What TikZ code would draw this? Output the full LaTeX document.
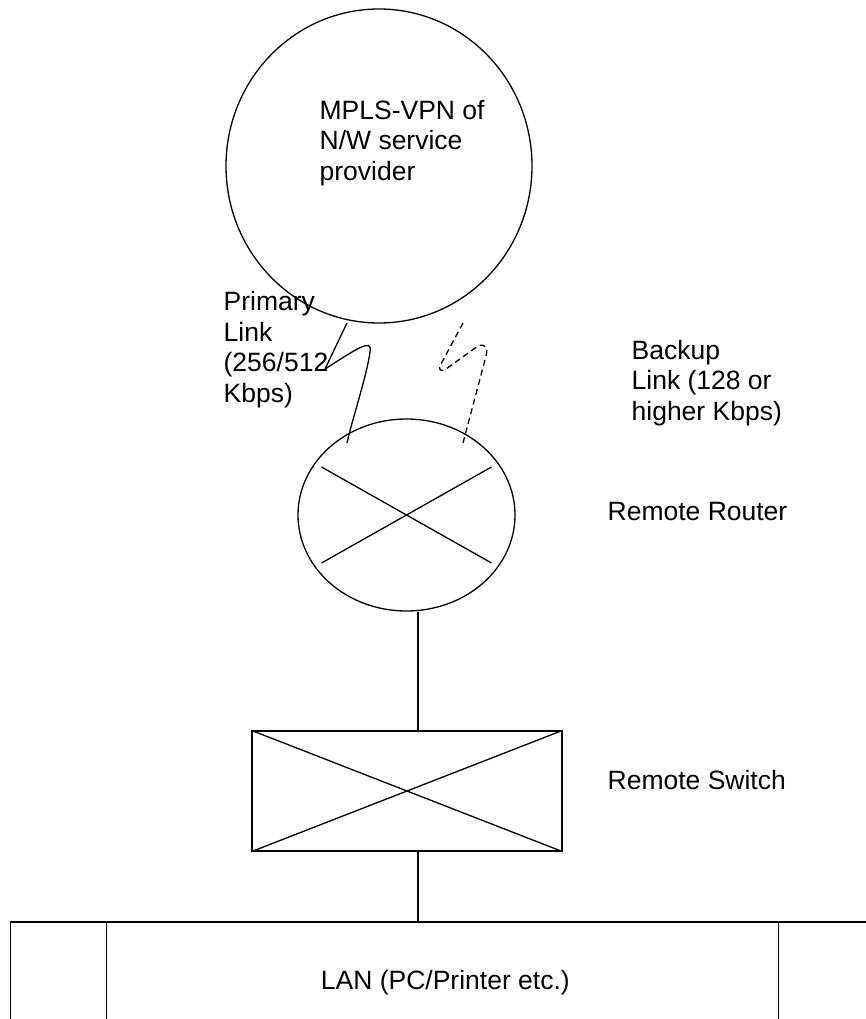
\documentclass[tikz,border=0pt]{standalone}
\usepackage{fontspec}
\setmainfont{Liberation Sans}
\usetikzlibrary{shapes.geometric,calc}
\begin{document}
\begin{tikzpicture}[x=1pt,y=-1pt,line width=1.3pt,
  font=\fontsize{26.5}{30.5}\selectfont,
  lbl/.style={anchor=west,align=left,inner sep=0pt},
  netshape/.style={draw,ellipse,inner sep=0pt},
  boxshape/.style={draw,rectangle,inner sep=0pt},
  dsh/.style={dash pattern=on 6pt off 4pt}]
\clip (0,0) rectangle (866,1019);
\fill[white] (0,0) rectangle (866,1019);

% MPLS cloud
\node[netshape,minimum width=306,minimum height=314] (cloud) at (379,166) {};
\node[lbl] (cloudtxt) at (319,143) {MPLS-VPN of\\N/W service\\provider};

% remote router
\node[netshape,minimum width=217,minimum height=192] (router) at (406.5,515) {};
\draw ($(router.center)+(-85,-48)$) -- ($(router.center)+(85,48)$);
\draw ($(router.center)+(-85,48)$) -- ($(router.center)+(85,-48)$);
\node[lbl] (routertxt) at (607,512) {Remote Router};

% remote switch
\node[boxshape,minimum width=310,minimum height=120] (switch) at (407,791) {};
\draw (switch.north west) -- (switch.south east);
\draw (switch.south west) -- (switch.north east);
\node[lbl] (switchtxt) at (607,780) {Remote Switch};

% LAN
\node[boxshape,minimum width=869.3,minimum height=122] (lan) at (445.35,983) {LAN (PC/Printer etc.)};
\draw ([xshift=96.3]lan.north west) -- ([xshift=96.3]lan.south west);
\draw ([xshift=768.3]lan.north west) -- ([xshift=768.3]lan.south west);

% connectors
\draw ([xshift=11.5]router.south) -- ([xshift=11]switch.north);
\coordinate (swb) at ([xshift=11]switch.south);
\draw (swb) -- (swb |- lan.north);

% primary link (solid lightning)
\coordinate (pa) at (347,323);
\coordinate (pb) at (325,369);
\coordinate (pc) at (370,352);
\coordinate (pd) at (347,443);
\draw (pa) -- (pb) .. controls (355,350) and (373,337) .. (pc)
      .. controls (367,375) and (352,420) .. (pd);
\node[lbl] (primtxt) at (223,349.5) {Primary\\Link\\(256/512\\Kbps)};

% backup link (dashed lightning)
\coordinate (ba) at (463,323);
\coordinate (bb) at (441,364);
\coordinate (bc) at (446,369);
\coordinate (bd) at (478,346);
\coordinate (be) at (486,356);
\coordinate (bf) at (463,443);
\draw[dsh] (ba) -- (bb) .. controls (438,370) and (440,372) .. (bc) -- (bd)
      .. controls (486,343) and (488,348) .. (be) -- (bf);
\node[lbl] (backtxt) at (631,383) {Backup\\Link (128 or\\higher Kbps)};
\end{tikzpicture}
\end{document}
